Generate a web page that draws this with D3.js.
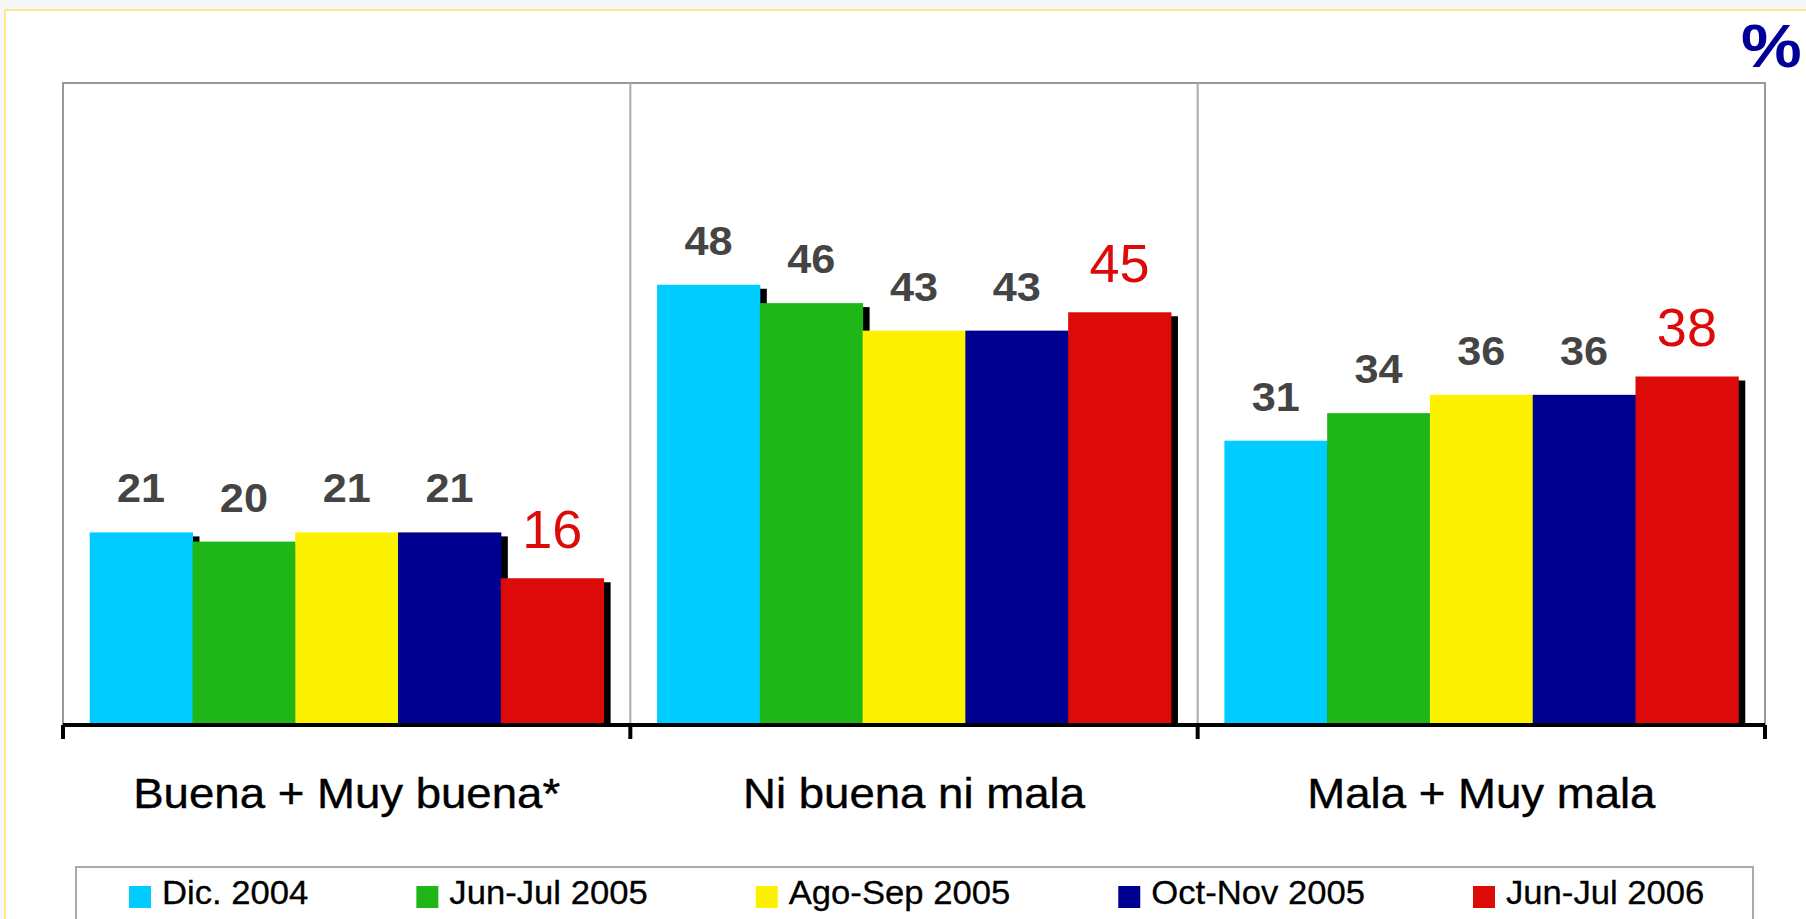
<!DOCTYPE html>
<html>
<head>
<meta charset="utf-8">
<script src="https://cdnjs.cloudflare.com/ajax/libs/d3/7.8.5/d3.min.js"></script>
<style>
  body { margin: 0; background: #f7f7f7; }
  svg { display: block; }
  text { font-family: "Liberation Sans", Arial, sans-serif; }
</style>
</head>
<body>
<svg id="chart" width="1806" height="919"></svg>
<script>
var categories = ['Buena + Muy buena*', 'Ni buena ni mala', 'Mala + Muy mala'];
var series = ['Dic. 2004', 'Jun-Jul 2005', 'Ago-Sep 2005', 'Oct-Nov 2005', 'Jun-Jul 2006'];
var colors = ['#00ccff', '#1fb718', '#fcf200', '#000090', '#dd0a0a'];
var values = [
  [21, 48, 31],
  [20, 46, 34],
  [21, 43, 36],
  [21, 43, 36],
  [16, 45, 38]
];

var svg = d3.select('#chart'),
    plot_left = 63,
    plot_right = 1765,
    plot_top = 83,
    axis_y = 725,
    stretch = 1.08;

// slide panel
svg.append('rect')
   .attr('x', 5)
   .attr('y', 10)
   .attr('width', 1820)
   .attr('height', 930)
   .attr('fill', '#ffffff')
   .attr('stroke', '#ffe98c')
   .attr('stroke-width', 2);

svg.append('text')
   .text('%')
   .attr('font-size', 62)
   .attr('font-weight', 'bold')
   .attr('fill', '#000099')
   .attr('transform', 'translate(1741,67) scale(1.1,1)');

var x0 = d3.scaleBand()
           .domain(categories)
           .range([plot_left, plot_right])
           .padding(0);

var x1 = d3.scaleBand()
           .domain(series)
           .range([0, x0.bandwidth()])
           .paddingInner(0)
           .paddingOuter(0.26);

var y = d3.scaleLinear()
          .domain([0, 70])
          .range([axis_y, plot_top]);

// frame + dividers
svg.append('rect')
   .attr('x', plot_left)
   .attr('y', plot_top)
   .attr('width', plot_right - plot_left)
   .attr('height', axis_y - plot_top)
   .attr('fill', 'none')
   .attr('stroke', '#999999')
   .attr('stroke-width', 2);

svg.append('g')
   .selectAll('line')
   .data(categories.slice(1))
   .join('line')
   .attr('x1', function(d){ return x0(d); })
   .attr('x2', function(d){ return x0(d); })
   .attr('y1', plot_top)
   .attr('y2', axis_y)
   .attr('stroke', '#aaaaaa')
   .attr('stroke-width', 2);

var rows = [];
series.forEach(function(s, i){
  categories.forEach(function(c, j){
    rows.push({series: s, cat: c, value: values[i][j], color: colors[i], last: i === series.length - 1});
  });
});

// shadows first, bars on top
svg.append('g')
   .selectAll('rect')
   .data(rows)
   .join('rect')
   .attr('x', function(d){ return x0(d.cat) + x1(d.series) + 7; })
   .attr('y', function(d){ return y(d.value) + 4; })
   .attr('width', x1.bandwidth())
   .attr('height', function(d){ return axis_y - y(d.value) - 4; })
   .attr('fill', '#000000');

svg.append('g')
   .selectAll('rect')
   .data(rows)
   .join('rect')
   .attr('x', function(d){ return x0(d.cat) + x1(d.series); })
   .attr('y', function(d){ return y(d.value); })
   .attr('width', x1.bandwidth() + 0.5)
   .attr('height', function(d){ return axis_y - y(d.value); })
   .attr('fill', function(d){ return d.color; });

// value labels
svg.append('g')
   .selectAll('text')
   .data(rows)
   .join('text')
   .text(function(d){ return d.value; })
   .attr('text-anchor', 'middle')
   .attr('font-size', function(d){ return d.last ? 54 : 40; })
   .attr('font-weight', function(d){ return d.last ? 'normal' : 'bold'; })
   .attr('fill', function(d){ return d.last ? '#dd0a0a' : '#444444'; })
   .attr('transform', function(d){
     var cx = x0(d.cat) + x1(d.series) + x1.bandwidth() / 2,
         cy = y(d.value) - 30;
     return 'translate(' + cx + ',' + cy + ') scale(' + (d.last ? 1 : stretch) + ',1)';
   });

// axis
svg.append('line')
   .attr('x1', plot_left)
   .attr('x2', plot_right)
   .attr('y1', axis_y)
   .attr('y2', axis_y)
   .attr('stroke', '#000000')
   .attr('stroke-width', 4);

svg.append('g')
   .selectAll('line')
   .data(categories.concat(['end']))
   .join('line')
   .attr('x1', function(d, i){ return i < categories.length ? x0(d) : plot_right; })
   .attr('x2', function(d, i){ return i < categories.length ? x0(d) : plot_right; })
   .attr('y1', axis_y)
   .attr('y2', axis_y + 14)
   .attr('stroke', '#000000')
   .attr('stroke-width', 4);

svg.append('g')
   .selectAll('text')
   .data(categories)
   .join('text')
   .text(function(d){ return d; })
   .attr('text-anchor', 'middle')
   .attr('font-size', 43)
   .attr('fill', '#000000')
   .attr('stroke', '#000000')
   .attr('stroke-width', 0.4)
   .attr('transform', function(d){
     return 'translate(' + (x0(d) + x0.bandwidth() / 2) + ',808) scale(1.06,1)';
   });

// legend
svg.append('rect')
   .attr('x', 76)
   .attr('y', 867)
   .attr('width', 1677)
   .attr('height', 80)
   .attr('fill', '#ffffff')
   .attr('stroke', '#aaaaaa')
   .attr('stroke-width', 2);

var legend = svg.append('g').attr('class', 'legend'),
    lx = 129;

series.forEach(function(s, i){
  legend.append('rect')
        .attr('x', lx)
        .attr('y', 886)
        .attr('width', 22)
        .attr('height', 22)
        .attr('fill', colors[i]);
  var t = legend.append('text')
                .text(s)
                .attr('font-size', 33)
                .attr('fill', '#000000')
                .attr('stroke', '#000000')
                .attr('stroke-width', 0.3)
                .attr('transform', 'translate(' + (lx + 33) + ',904) scale(1.05,1)');
  lx = lx + 33 + t.node().getComputedTextLength() * 1.05 + 108;
});
</script>
</body>
</html>
